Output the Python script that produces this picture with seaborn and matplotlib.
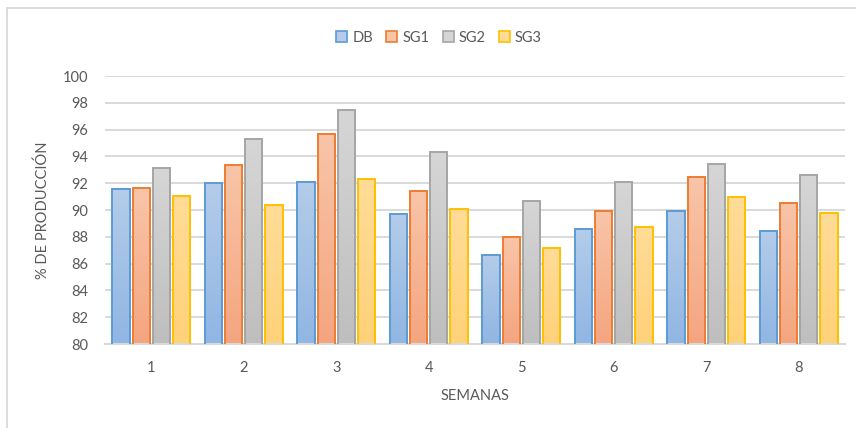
import numpy as np
import pandas as pd
import matplotlib
matplotlib.use("Agg")
import matplotlib.pyplot as plt
from matplotlib.colors import LinearSegmentedColormap
from matplotlib.patches import Rectangle, Patch
import seaborn as sns

# Weekly production share per group
semanas = ["1", "2", "3", "4", "5", "6", "7", "8"]
series = ["DB", "SG1", "SG2", "SG3"]
db = [91.55, 92.0, 92.12, 89.68, 86.65, 88.58, 89.9, 88.46]
sg1 = [91.63, 93.37, 95.7, 91.42, 88.01, 89.96, 92.43, 90.55]
sg2 = [93.15, 95.32, 97.43, 94.31, 90.7, 92.06, 93.45, 92.58]
sg3 = [91.04, 90.4, 92.35, 90.1, 87.14, 88.76, 90.99, 89.74]

df = pd.DataFrame({
    "semana": semanas * 4,
    "serie": [s for s in series for _ in semanas],
    "valor": db + sg1 + sg2 + sg3,
})

edge_cols = {"DB": "#5b9bd5", "SG1": "#ed7d31", "SG2": "#a5a5a5", "SG3": "#ffc000"}
grad_cols = {
    "DB": ("#b4cce9", "#90b6e3"),
    "SG1": ("#f8c5a9", "#f4a57f"),
    "SG2": ("#d6d6d6", "#bebebe"),
    "SG3": ("#ffdc98", "#ffd279"),
}
text_col = "#595959"
grid_col = "#d9d9d9"

sns.set_theme(style="white")
plt.rcParams["font.family"] = ["Lato", "DejaVu Sans"]

fig = plt.figure(figsize=(8.56, 4.28), dpi=100)
ax = fig.add_axes([105 / 856, 1 - 344 / 428, 740 / 856, 268 / 428])

sns.barplot(data=df, x="semana", y="valor", hue="serie", hue_order=series,
            order=semanas, palette={k: v[1] for k, v in grad_cols.items()},
            width=0.867, gap=0.13, ax=ax, legend=False, zorder=2)

ymin, ymax = 80, 100
ax.set_ylim(ymin, ymax)
ax.set_xlim(-0.5, len(semanas) - 0.5)

# Vertical gradient inside each bar, clipped to the bar outline
grad = np.linspace(0, 1, 256).reshape(-1, 1)
for name, cont in zip(series, ax.containers):
    top, bottom = grad_cols[name]
    cmap = LinearSegmentedColormap.from_list(name, [bottom, top])
    for bar in cont:
        bar.set_edgecolor(edge_cols[name])
        bar.set_linewidth(1.4)
        x0 = bar.get_x()
        w = bar.get_width()
        h = bar.get_y() + bar.get_height()
        im = ax.imshow(grad, cmap=cmap, origin="lower", aspect="auto",
                       extent=[x0, x0 + w, ymin, h], zorder=2.5,
                       interpolation="bilinear")
        im.set_clip_path(bar)
        bar.set_facecolor("none")
        bar.set_zorder(3)

ax.set_xlim(-0.5, len(semanas) - 0.5)
ax.set_ylim(ymin, ymax)
ax.set_yticks(np.arange(80, 101, 2))
ax.yaxis.grid(True, color=grid_col, linewidth=1.4, zorder=0)
ax.set_axisbelow(True)
for s in ["top", "right", "left"]:
    ax.spines[s].set_visible(False)
ax.spines["bottom"].set_color(grid_col)
ax.spines["bottom"].set_linewidth(1.5)
ax.tick_params(axis="both", length=0, labelsize=10.5, labelcolor=text_col)
ax.tick_params(axis="x", pad=12)
ax.tick_params(axis="y", pad=12)

ax.set_xlabel("SEMANAS", fontsize=10.5, color=text_col, labelpad=10)
ax.set_ylabel("% DE PRODUCCIÓN", fontsize=10.5, color=text_col, labelpad=9)

handles = [Patch(facecolor=grad_cols[s][0], edgecolor=edge_cols[s], linewidth=1.2, label=s)
           for s in series]
fig.legend(handles=handles, loc="center", bbox_to_anchor=(0.513, 0.912), ncol=4,
           frameon=False, fontsize=10.5, labelcolor=text_col, handlelength=0.75,
           handleheight=0.75, handletextpad=0.35, columnspacing=0.9)

# Chart-area border
fig.patches.append(Rectangle((7 / 856, -0.1), 1.1, 1 - 8 / 428 + 0.1,
                             transform=fig.transFigure, fill=False,
                             edgecolor=grid_col, linewidth=1.3))

fig.savefig("out.png", dpi=100)
